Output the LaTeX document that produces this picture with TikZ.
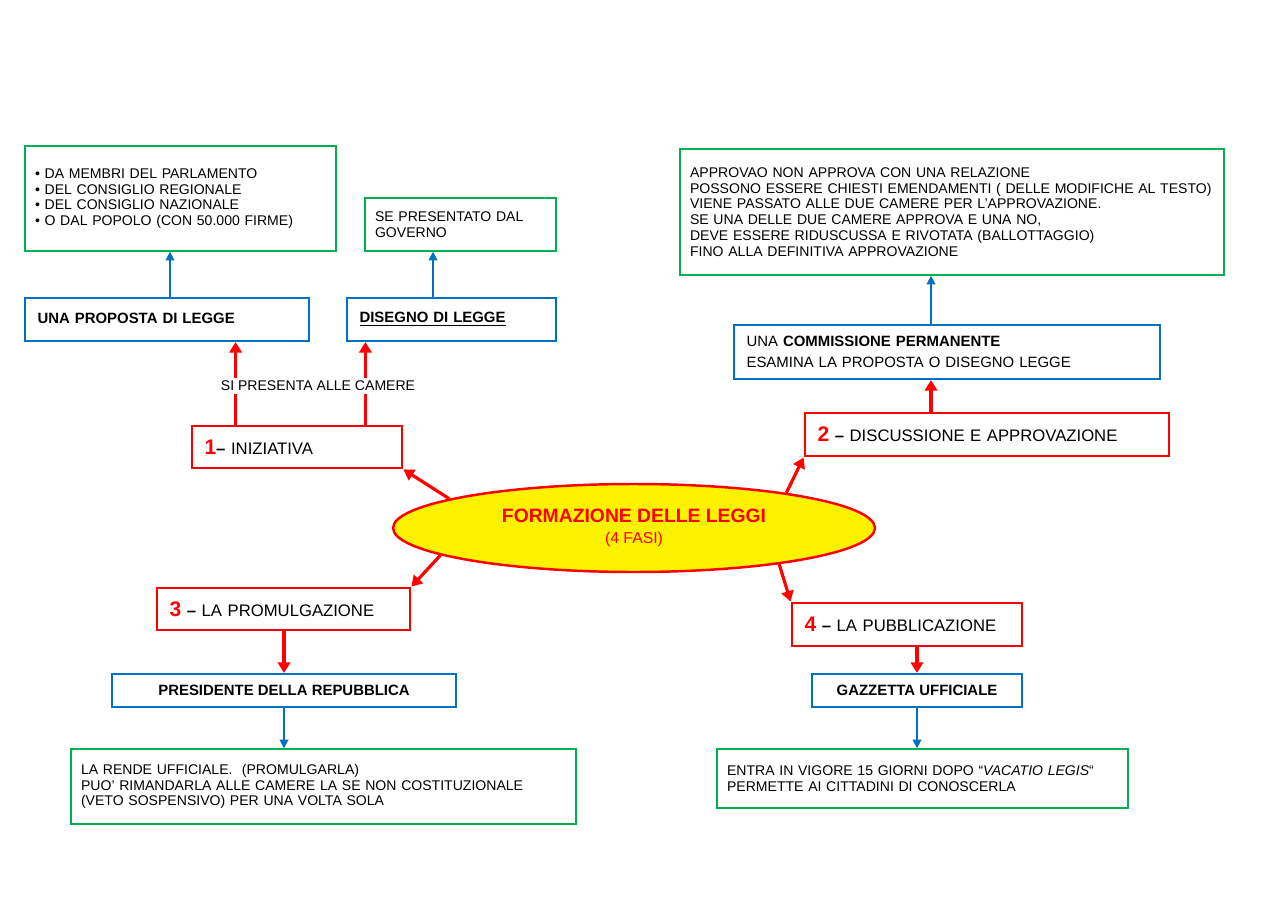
\documentclass[tikz,border=0pt]{standalone}
\usepackage{fontspec}
\setmainfont{Liberation Sans}
\usetikzlibrary{shapes.geometric,arrows.meta}
\definecolor{bblue}{RGB}{0,112,192}
\definecolor{ggreen}{RGB}{0,176,80}
\begin{document}
\begin{tikzpicture}[x=0.02cm,y=-0.02cm,font=\fontsize{8}{10}\selectfont]
\tikzstyle{gbox}=[draw=ggreen,line width=0.8pt,rectangle,inner xsep=0.2cm,align=left]
\tikzstyle{bbox}=[draw=bblue,line width=1.2pt,rectangle,inner xsep=0.25cm,align=left,font=\fontsize{8.5}{11}\selectfont]
\tikzstyle{rbox}=[draw=red,line width=1.6pt,rectangle,inner xsep=0.25cm,align=left,font=\fontsize{9.5}{11}\selectfont]
\tikzstyle{rarr}=[red,line width=1.8pt,-{Triangle[length=6pt,width=7pt]}]
\tikzstyle{barr}=[bblue,line width=1pt,-{Triangle[length=5pt,width=5pt]}]
\useasboundingbox (0,0) rectangle (1280,905);
% central ellipse
\node [ellipse,draw=red,line width=1.4pt,fill=yellow,minimum width=9.64cm,minimum height=1.76cm,inner sep=0pt,align=center] (ell) at (634,528)
 {{\color{red}\bfseries\fontsize{11}{13}\selectfont FORMAZIONE DELLE LEGGI}\\[2pt]{\color{red}\fontsize{9}{11}\selectfont (4 FASI)}};
% phase 1
\node [rbox,minimum width=4.2cm,minimum height=0.84cm,text width=3.7cm] (iniz) at (297,447) {{\color{red}\bfseries\fontsize{12}{12}\selectfont 1}\textbf{–} INIZIATIVA};
\node [bbox,minimum width=5.68cm,minimum height=0.86cm,text width=5.18cm] (prop) at (167,319.5) {\textbf{UNA PROPOSTA DI LEGGE}\vphantom{g}\\[4pt]};
\node [bbox,minimum width=4.18cm,minimum height=0.86cm,text width=3.68cm] (dis) at (451.5,319.5) {\textbf{\underline{DISEGNO DI LEGGE}}\\[4pt]};
\node [gbox,minimum width=6.22cm,minimum height=2.1cm,text width=5.82cm] (memb) at (180.5,198.5)
 {• DA MEMBRI DEL PARLAMENTO\\[-1pt]• DEL CONSIGLIO REGIONALE\\[-1pt]• DEL CONSIGLIO NAZIONALE\\[-1pt]• O DAL POPOLO (CON 50.000 FIRME)\\[14pt]};
\node [gbox,minimum width=3.82cm,minimum height=1.06cm,text width=3.42cm] (gov) at (460.5,224.5) {SE PRESENTATO DAL\\[-1pt]GOVERNO};
% phase 2
\node [rbox,minimum width=7.28cm,minimum height=0.86cm,text width=6.78cm] (disc) at (987,434.5) {{\color{red}\bfseries\fontsize{12}{12}\selectfont 2} \textbf{–} DISCUSSIONE E APPROVAZIONE};
\node [bbox,font=\fontsize{8.5}{12}\selectfont,minimum width=8.52cm,minimum height=1.08cm,text width=8.02cm] (comm) at (947,352) {UNA \textbf{COMMISSIONE PERMANENTE}\\ESAMINA LA PROPOSTA O DISEGNO LEGGE};
\node [gbox,minimum width=10.88cm,minimum height=2.52cm,text width=10.48cm] (appr) at (952,212)
 {APPROVAO NON APPROVA CON UNA RELAZIONE\\[-1pt]POSSONO ESSERE CHIESTI EMENDAMENTI ( DELLE MODIFICHE AL TESTO)\\[-1pt]VIENE PASSATO ALLE DUE CAMERE PER L’APPROVAZIONE.\\[-1pt]SE UNA DELLE DUE CAMERE APPROVA E UNA NO,\\[-1pt]DEVE ESSERE RIDUSCUSSA E RIVOTATA (BALLOTTAGGIO)\\[-1pt]FINO ALLA DEFINITIVA APPROVAZIONE\\[6pt]};
% phase 3
\node [rbox,minimum width=5.06cm,minimum height=0.84cm,text width=4.56cm] (prom) at (283.5,609) {{\color{red}\bfseries\fontsize{12}{12}\selectfont 3} \textbf{–} LA PROMULGAZIONE};
\node [bbox,minimum width=6.88cm,minimum height=0.66cm,align=center] (pres) at (284,690.5) {\textbf{PRESIDENTE DELLA REPUBBLICA}};
\node [gbox,minimum width=10.1cm,minimum height=1.5cm,text width=9.7cm] (uff) at (323.5,786.5)
 {LA RENDE UFFICIALE.~~(PROMULGARLA)\\[-1pt]PUO’ RIMANDARLA ALLE CAMERE LA SE NON COSTITUZIONALE\\[-1pt](VETO SOSPENSIVO) PER UNA VOLTA SOLA};
% phase 4
\node [rbox,minimum width=4.6cm,minimum height=0.86cm,text width=4.1cm] (pubb) at (907,624.5) {{\color{red}\bfseries\fontsize{12}{12}\selectfont 4} \textbf{–} LA PUBBLICAZIONE};
\node [bbox,minimum width=4.2cm,minimum height=0.66cm,align=center] (gazz) at (917,690.5) {\textbf{GAZZETTA UFFICIALE}};
\node [gbox,minimum width=8.22cm,minimum height=1.18cm,text width=7.82cm] (vig) at (922.5,778.5)
 {ENTRA IN VIGORE 15 GIORNI DOPO “\textit{VACATIO LEGIS}“\\[-1pt]PERMETTE AI CITTADINI DI CONOSCERLA\\[4pt]};
% connectors
\draw [rarr] (ell.171) -- (iniz.south east);
\draw [rarr] (ell.13) -- (disc.south west);
\draw [rarr] (ell.188) -- (prom.north east);
\draw [rarr] (ell.346) -- (pubb.north west);
\draw [rarr] ([xshift=0.9cm]iniz.north west) -- ([xshift=0.9cm]iniz.north west |- prop.south);
\draw [rarr] ([xshift=-0.76cm]iniz.north east) -- ([xshift=-0.76cm]iniz.north east |- dis.south);
\node [fill=white,inner sep=2pt,font=\fontsize{8}{10}\selectfont] (cam) at (318,386) {SI PRESENTA ALLE CAMERE};
\draw [rarr] ([xshift=-1.12cm]disc.north) -- ([xshift=-1.12cm]disc.north |- comm.south);
\draw [rarr] (prom.south -| pres.north) -- (pres.north);
\draw [rarr] (pubb.south -| gazz.north) -- (gazz.north);
\draw [barr] ([xshift=0.06cm]prop.north) -- ([xshift=0.06cm]prop.north |- memb.south);
\draw [barr] ([xshift=-0.37cm]dis.north) -- ([xshift=-0.37cm]dis.north |- gov.south);
\draw [barr] ([xshift=-0.32cm]comm.north) -- ([xshift=-0.32cm]comm.north |- appr.south);
\draw [barr] (pres.south) -- (pres.south |- uff.north);
\draw [barr] (gazz.south) -- (gazz.south |- vig.north);
\end{tikzpicture}
\end{document}
